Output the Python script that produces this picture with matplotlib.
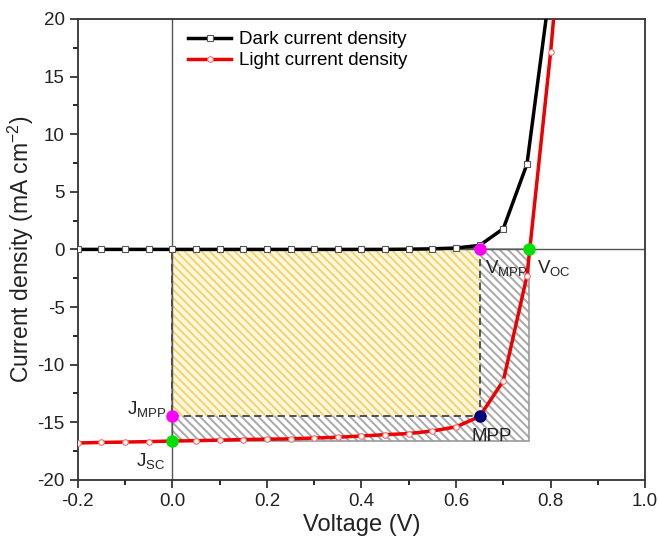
import matplotlib.pyplot as plt
import matplotlib.patches as mpatches
from matplotlib.ticker import MultipleLocator
import numpy as np

plt.rcParams['font.family'] = ['Liberation Sans', 'DejaVu Sans']
plt.rcParams['mathtext.fontset'] = 'custom'
plt.rcParams['mathtext.rm'] = 'Liberation Sans'
plt.rcParams['axes.unicode_minus'] = False
plt.rcParams['hatch.linewidth'] = 1.4

# data (V, mA cm^-2)
voltage = np.round(np.arange(-0.2, 0.851, 0.05), 2)
dark = [0.0, 0.0, 0.0, 0.0, 0.0, 0.0, 0.0, 0.0, 0.0, 0.0, 0.0, 0.0, 0.0, 0.0,
        0.02, 0.05, 0.12, 0.35, 1.8, 7.4, 23.0, 45.0]
light = [-16.8, -16.75, -16.72, -16.68, -16.63, -16.6, -16.55, -16.5, -16.47,
         -16.44, -16.37, -16.3, -16.19, -16.08, -15.98, -15.76, -15.4, -14.5,
         -11.4, -2.3, 17.1, 40.0]

v_mpp, j_mpp = 0.65, -14.45
v_oc, j_sc = 0.755, -16.63

fig, ax = plt.subplots(figsize=(6.59, 5.41), dpi=100)
fig.subplots_adjust(left=0.118, right=0.979, top=0.965, bottom=0.113)

# hatched areas
hatch = '\\\\\\\\'
ax.add_patch(mpatches.Rectangle((0, j_sc), v_oc, -j_sc, facecolor='white',
                                edgecolor='#a8a8a8', hatch=hatch, lw=0, zorder=1))
ax.add_patch(mpatches.Rectangle((0, j_sc), v_oc, -j_sc, fill=False,
                                edgecolor='#9a9a9a', lw=1.2, zorder=1.5))
ax.add_patch(mpatches.Rectangle((0, j_mpp), v_mpp, -j_mpp, facecolor='#fff8e0',
                                edgecolor='#f4d26a', hatch=hatch, lw=0, zorder=1.6))
ax.add_patch(mpatches.Rectangle((0, j_mpp), v_mpp, -j_mpp, fill=False,
                                edgecolor='#444444', lw=1.3, ls=(0, (4, 2.5)), zorder=1.7))

ax.axhline(0, color='#555555', lw=1, zorder=2)
ax.axvline(0, color='#555555', lw=1, zorder=2)

ax.plot(voltage, dark, color='black', lw=2.5, marker='s', ms=4,
        mfc='white', mec='#555555', mew=0.8, label='Dark current density', zorder=3)
ax.plot(voltage, light, color='#ee0000', lw=2.5, marker='o', ms=4,
        mfc='white', mec='#f07070', mew=0.8, label='Light current density', zorder=3)

ax.plot([v_mpp, 0], [0, j_mpp], 'o', color='#ff00ff', ms=8, zorder=4, clip_on=False)
ax.plot([v_oc, 0], [0, j_sc], 'o', color='#00e000', ms=8, zorder=4, clip_on=False)
ax.plot([v_mpp], [j_mpp], 'o', color='#00007a', ms=8, zorder=4)

fs = 13.5
ax.text(0.662, -1.7, r'V$_{\mathregular{MPP}}$', fontsize=fs, va='center', ha='left', color='#222222')
ax.text(0.772, -1.7, r'V$_{\mathregular{OC}}$', fontsize=fs, va='center', ha='left', color='#222222')
ax.text(-0.012, -13.9, r'J$_{\mathregular{MPP}}$', fontsize=fs, va='center', ha='right', color='#222222')
ax.text(-0.016, -18.4, r'J$_{\mathregular{SC}}$', fontsize=fs, va='center', ha='right', color='#222222')
ax.text(0.632, -16.2, 'MPP', fontsize=fs, va='center', ha='left', color='#222222')

ax.set_xlim(-0.2, 1.0)
ax.set_ylim(-20, 20)
ax.set_xticks(np.arange(-0.2, 1.01, 0.2))
ax.set_xticklabels(['-0.2', '0.0', '0.2', '0.4', '0.6', '0.8', '1.0'])
ax.xaxis.set_minor_locator(MultipleLocator(0.1))
ax.yaxis.set_major_locator(MultipleLocator(5))
ax.yaxis.set_minor_locator(MultipleLocator(2.5))
ax.tick_params(which='major', direction='out', length=6, width=1.2, labelsize=13.5, colors='#222222')
ax.tick_params(which='minor', direction='out', length=3.5, width=1.2)
for s in ax.spines.values():
    s.set_linewidth(1.3)
    s.set_color('#333333')

ax.set_xlabel('Voltage (V)', fontsize=17, color='#222222', labelpad=3)
ax.set_ylabel(r'Current density (mA cm$^{\mathregular{-2}}$)', fontsize=16.5, color='#222222', labelpad=1)

ax.legend(loc='upper left', bbox_to_anchor=(0.165, 1.01), frameon=False, fontsize=13.5,
          handlelength=2.3, handletextpad=0.4, labelspacing=0.2)

fig.savefig('out.png', dpi=100)
